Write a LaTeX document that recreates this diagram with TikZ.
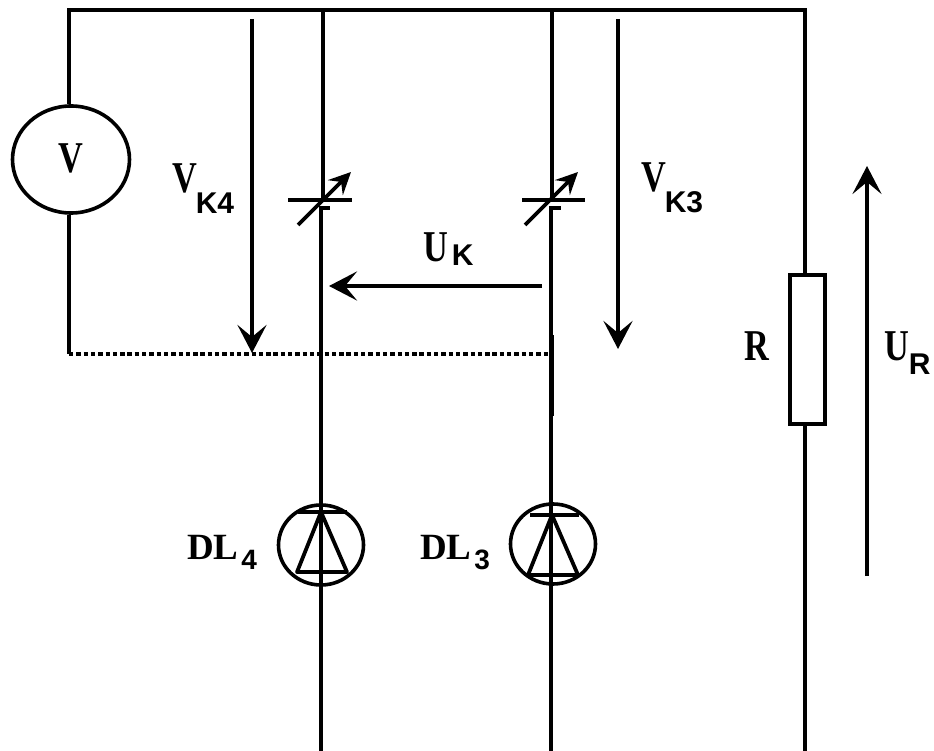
\documentclass[tikz,border=0pt]{standalone}
\usepackage{graphicx}
\usepackage{fontspec}
\setmainfont{Liberation Serif}
\newfontfamily\subfont{Liberation Sans}
\usetikzlibrary{arrows.meta,shapes.geometric}
\newcommand{\mainlet}[1]{{\fontsize{44}{48}\selectfont\bfseries\scalebox{.78}[1]{#1}}}
\newcommand{\subpart}[2][-11pt]{\raisebox{#1}{\fontsize{30}{32}\selectfont\subfont\bfseries #2}}
\newcommand{\dlname}[2]{{\fontsize{37}{40}\selectfont\bfseries DL}\hspace{3pt}\raisebox{-10pt}{\fontsize{28}{30}\selectfont\subfont\bfseries #2}}
\tikzset{
  wire/.style={line width=3.8pt,line cap=butt,line join=miter,black},
  bigarrow/.style={wire,-{Stealth[length=28pt,width=29pt,inset=12pt]}},
  tunearrow/.style={line width=3.6pt,black,-{Stealth[length=22pt,width=21pt,inset=8pt]}},
  meter/.style={draw=black,line width=3.6pt,ellipse,inner sep=0pt,minimum width=117pt,minimum height=107pt,fill=white},
  lamp/.style={draw=black,line width=3.6pt,ellipse,inner sep=0pt,minimum width=85pt,minimum height=80pt},
  resbox/.style={draw=black,line width=3.6pt,rectangle,inner sep=0pt,minimum width=35pt,minimum height=149pt,fill=white},
  lbl/.style={inner sep=0pt,outer sep=0pt,text=black,anchor=base west},
}
\begin{document}
\begin{tikzpicture}[x=1pt,y=-1pt]
\useasboundingbox (0,0) rectangle (934,751);
\fill[white] (0,0) rectangle (934,751);
% junction and free-end points
\coordinate (tl) at (69,10);
\coordinate (t4) at (323,10);
\coordinate (t3) at (552,10);
\coordinate (tr) at (805,10);
\coordinate (bl) at (69,354);
\coordinate (b3) at (552,354);
\coordinate (p4) at (323,200);
\coordinate (q4) at (321,208);
\coordinate (p3) at (552,200);
\coordinate (q3) at (551,208);
\coordinate (e4) at (321,751);
\coordinate (e3) at (551,751);
\coordinate (er) at (805,751);
% components
\node[meter] (vm) at (71,159.5) {};
\node[resbox] (res) at (807.5,349.5) {};
\node[lamp] (dl4) at (321,545) {};
\node[lamp] (dl3) at (553,544) {};
% wires
\draw[wire] (vm.north -| tl) -- (tl) -- (tr) -- (res.north -| tr);
\draw[wire] (vm.south -| tl) -- (bl);
\draw[wire,dash pattern=on 4.4pt off 2.9pt] (bl) -- (b3);
\draw[wire] (t4) -- (p4);
\draw[wire] (q4) -- (e4);
\draw[wire] (t3) -- (p3);
\draw[wire] (q3) -- (e3);
\draw[line width=2.5pt,black] (552.5,335) -- (552.5,416);
\draw[wire] (res.south -| tr) -- (er);
% varicap plates
\coordinate (pl4a) at (288,200); \coordinate (pl4b) at (352,200);
\coordinate (ql4a) at (319,208); \coordinate (ql4b) at (330,208);
\coordinate (pl3a) at (522,200); \coordinate (pl3b) at (585,200);
\coordinate (ql3a) at (549,208); \coordinate (ql3b) at (561,208);
\draw[wire] (pl4a) -- (pl4b);
\draw[wire] (ql4a) -- (ql4b);
\draw[wire] (pl3a) -- (pl3b);
\draw[wire] (ql3a) -- (ql3b);
\coordinate (d4a) at (298,225); \coordinate (d4b) at (351,172);
\coordinate (d3a) at (525,225); \coordinate (d3b) at (578,172);
\draw[tunearrow] (d4a) -- (d4b);
\draw[tunearrow] (d3a) -- (d3b);
% voltage arrows
\coordinate (vk4a) at (252,19); \coordinate (vk4b) at (252,353);
\coordinate (vk3a) at (618,19); \coordinate (vk3b) at (618,349);
\coordinate (uka) at (542,286); \coordinate (ukb) at (329,286);
\coordinate (ura) at (867,576); \coordinate (urb) at (867,166);
\draw[bigarrow] (vk4a) -- (vk4b);
\draw[bigarrow] (vk3a) -- (vk3b);
\draw[bigarrow] (uka) -- (ukb);
\draw[bigarrow] (ura) -- (urb);
% diode symbols
\coordinate (a4) at (321,512); \coordinate (a3) at (552,515);
\coordinate (b4l) at (297,572); \coordinate (b4r) at (347,572);
\coordinate (b3l) at (528,575); \coordinate (b3r) at (578,575);
\draw[wire] (298,512) -- (347,512);
\draw[wire] (530,515) -- (579,515);
\draw[wire,line join=round] (a4) -- (b4l) -- (b4r) -- cycle;
\draw[wire,line join=round] (a3) -- (b3l) -- (b3r) -- cycle;
% labels
\node[lbl] (lv) at (58,173) {\mainlet{V}};
\node[lbl] (lvk4) at (172,193) {\mainlet{V}\hspace{-1pt}\subpart[-21pt]{K4}};
\node[lbl] (lvk3) at (641,192) {\mainlet{V}\hspace{-1pt}\subpart[-21pt]{K3}};
\node[lbl] (luk) at (423,262) {\mainlet{U}\hspace{4pt}\subpart[-3pt]{K}};
\node[lbl] (lr) at (744,360) {\mainlet{R}};
\node[lbl] (lur) at (884,360) {\mainlet{U}\subpart[-14pt]{R}};
\node[lbl] (ldl4) at (187,559) {\dlname{DL}{4}};
\node[lbl] (ldl3) at (420,559) {\dlname{DL}{3}};
\end{tikzpicture}
\end{document}
